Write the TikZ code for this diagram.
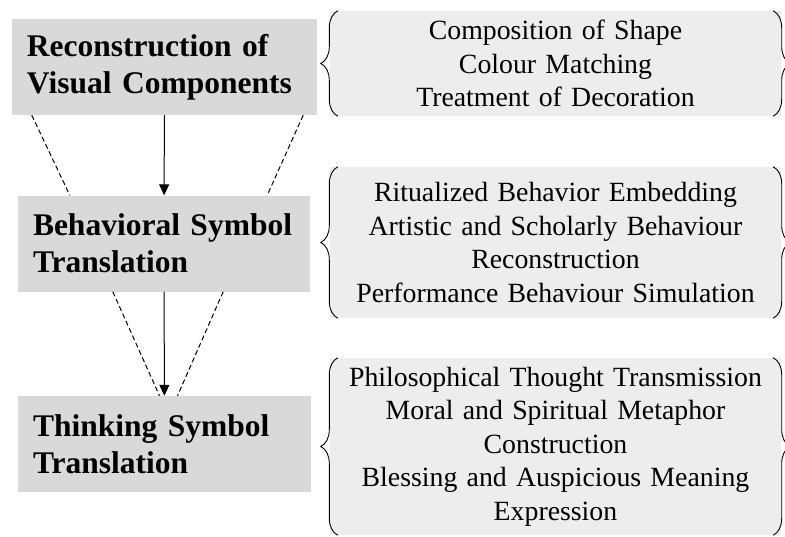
\documentclass[tikz,border=0pt]{standalone}
\usepackage{fontspec}
\setmainfont{Liberation Serif}
\usetikzlibrary{arrows.meta,decorations.pathreplacing}
\definecolor{stagegray}{HTML}{D9D9D9}
\definecolor{notegray}{HTML}{EDEDED}

\begin{document}
\begin{tikzpicture}
  [x=1pt,y=-1pt,
   stage/.style={rectangle,fill=stagegray,inner xsep=15pt,inner ysep=0pt,
     text width=#1,align=left,minimum height=96pt,
     font=\fontsize{31.5}{37}\selectfont\bfseries},
   note/.style={rectangle,fill=notegray,inner sep=0pt,text width=440pt,
     minimum width=451pt,align=center,minimum height=#1,
     font=\fontsize{27.8}{33.5}\selectfont},
   curly/.style={decorate,decoration={brace,amplitude=17pt},line width=0.9pt},
   flow/.style={line width=1pt,-{Triangle[length=11pt,width=10pt]}},
   guide/.style={line width=1pt,dash pattern=on 5pt off 3pt}]
  \useasboundingbox (0,0) rectangle (785,536);

  \node[stage=275pt] (n1) at (164.5,67)  {Reconstruction of\\Visual Components};
  \node[stage=262pt] (n2) at (164,243.5) {Behavioral Symbol\\Translation};
  \node[stage=263pt] (n3) at (164.5,444) {Thinking Symbol\\Translation};

  \node[note=105pt] (c1) at (555.5,63.5) {Composition of Shape\\Colour Matching\\Treatment of Decoration};
  \node[note=151pt] (c2) at (555.5,242.5) {Ritualized Behavior Embedding\\Artistic and Scholarly Behaviour\\Reconstruction\\Performance Behaviour Simulation};
  \node[note=177pt] (c3) at (555.5,446.5) {Philosophical Thought Transmission\\Moral and Spiritual Metaphor\\Construction\\Blessing and Auspicious Meaning\\Expression};

\draw[flow] (n1) -- (n2);
\draw[flow] (n2) -- (n3);

\draw[guide] ([xshift=20pt]n1.south west) -- ([xshift=52pt]n2.north west);
\draw[guide] ([xshift=-14pt]n1.south east) -- ([xshift=-43pt]n2.north east);
\draw[guide] ([xshift=95pt]n2.south west) -- ([xshift=-5pt]n3.north);
\draw[guide] ([xshift=-87pt]n2.south east) -- ([xshift=13pt]n3.north);

\foreach \c in {c1,c2,c3} {
  \draw[curly] ([xshift=8pt]\c.south west) -- ([xshift=8pt]\c.north west);
  \draw[curly] ([xshift=-8pt]\c.north east) -- ([xshift=-8pt]\c.south east);
}

\end{tikzpicture}
\end{document}
